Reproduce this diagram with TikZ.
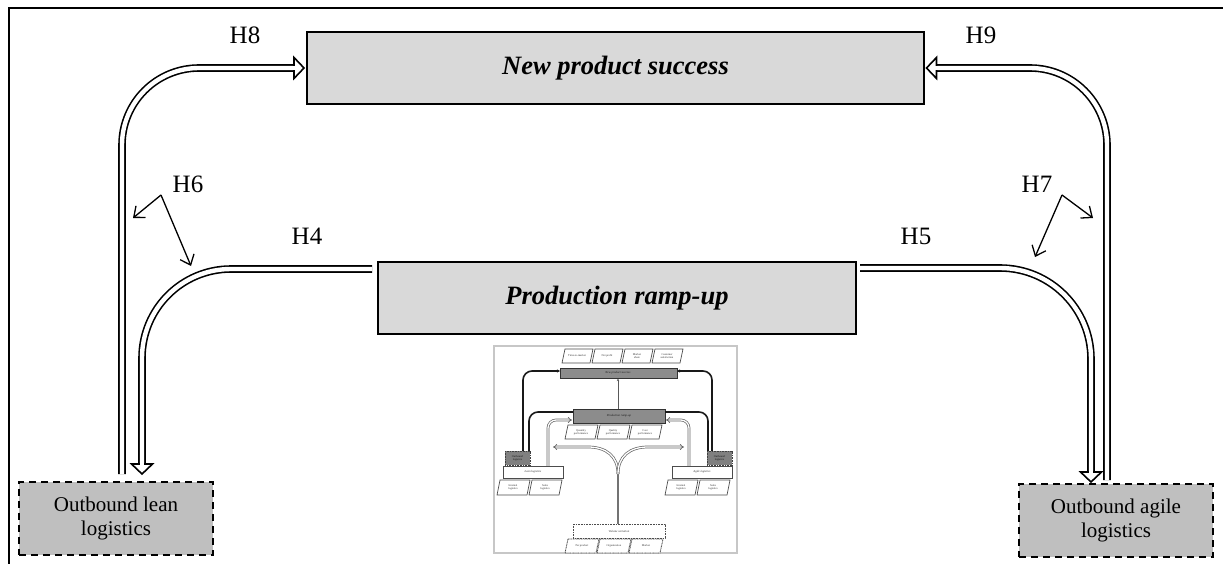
\documentclass[tikz,border=0pt]{standalone}
\usepackage{fontspec}
\setmainfont{Liberation Serif}
\usetikzlibrary{arrows.meta}
\newcommand\thpara[5]{%
  \draw[#5] (#1+3,#2) -- (#1+#3,#2) -- (#1+#3-3,#2+#4) -- (#1,#2+#4) -- cycle;}
\tikzset{
  dbl/.style={draw=black, double=white, line width=1.6pt, double distance=4.4pt, shorten >=9pt},
  dbls/.style={draw=black, double=white, line width=1.6pt, double distance=4.4pt},
  dtip/.pic={\draw[fill=white, line width=1.6pt, line join=miter] (0,0) -- (-10,10.5) -- (-10,-10.5) -- cycle;
             \fill[white] (-11.2,-2.2) rectangle (-8.9,2.2);},
  bigbox/.style={draw=black, line width=2pt, fill=black!15, inner sep=0pt,
     font=\fontsize{26.5}{30}\selectfont\bfseries\itshape},
  outbox/.style={draw=black, line width=2pt, dash pattern=on 7pt off 5pt, fill=black!25,
     minimum width=194pt, minimum height=73pt, inner sep=0pt, align=center,
     font=\fontsize{21}{24}\selectfont},
  hlab/.style={anchor=base, inner sep=0pt, font=\fontsize{25}{30}\selectfont},
  thin/.style={line width=1.3pt, -{Straight Barb[length=9pt,width=15pt,line width=1.3pt]}},
  tiny/.style={font=\fontsize{2.8}{3.2}\selectfont, text=black!80, inner sep=0pt, align=center},
  tpara/.style={draw=black!70, line width=0.7pt, fill=white},
  tparad/.style={draw=black!70, line width=0.8pt, fill=white, dash pattern=on 1pt off 0.6pt},
  tblk/.style={line width=1.6pt, draw=black!90, rounded corners=9pt},
  tdbl/.style={draw=black!60, double=white, line width=0.7pt, double distance=1.3pt, rounded corners=8pt}
}
\begin{document}
\begin{tikzpicture}[x=1pt,y=-1pt]
\useasboundingbox (0,0) rectangle (1223,564);
\fill[white] (0,0) rectangle (1223,564);
% frame (top and left only)
\draw[line width=1.6pt] (9,564) -- (9,8) -- (1223,8);

% main boxes
\node[bigbox, minimum width=617pt, minimum height=72pt] (nps) at (615.5,68) {New product success};
\node[bigbox, line width=2.4pt, minimum width=478pt, minimum height=72pt] (prod) at (617,298) {Production ramp-up};
\node[outbox] (lean) at (116,518) {Outbound lean\\logistics};
\node[outbox] (agile) at (1116,520) {Outbound agile\\logistics};

% free ends
\coordinate (h8s) at (122,474);
\coordinate (h8t) at ([xshift=-2pt]nps.west);
\coordinate (h9s) at (1107,480);
\coordinate (h9t) at ([xshift=1.5pt]nps.east);
\coordinate (h4s) at (372,269);
\coordinate (h4e) at (142,474);
\coordinate (h5s) at (860,268);
\coordinate (h5e) at (1091,482);

% double connectors
\draw[dbl, rounded corners=77pt] (h8s) -- (h8s |- h8t) -- (h8t);
\pic at (h8t) {dtip};
\draw[dbl, rounded corners=77pt] (h9s) -- (h9s |- h9t) -- (h9t);
\pic[rotate=180] at (h9t) {dtip};
\draw[dbl, rounded corners=89pt] (h4s) -- (h4e |- h4s) -- (h4e);
\pic[rotate=-90] at (h4e) {dtip};
\draw[dbl, rounded corners=91pt] (h5s) -- (h5e |- h5s) -- (h5e);
\pic[rotate=-90] at (h5e) {dtip};

% labels
\node[hlab] (l8) at (245,44) {H8};
\node[hlab] (l9) at (981,44) {H9};
\node[hlab] (l6) at (188,193) {H6};
\node[hlab] (l4) at (307,244) {H4};
\node[hlab] (l7) at (1037,193) {H7};
\node[hlab] (l5) at (916,244) {H5};

% H6 / H7 pointer arrows
\coordinate (v6) at (161,195);
\coordinate (t6a) at (133,218);
\coordinate (t6b) at (191,266);
\draw[thin] (v6) -- (t6a);
\draw[thin] (v6) -- (t6b);
\coordinate (v7) at (1062,195);
\coordinate (t7a) at (1093,218);
\coordinate (t7b) at (1035,257);
\draw[thin] (v7) -- (t7a);
\draw[thin] (v7) -- (t7b);

% ---------- thumbnail ----------
\draw[black!22, line width=1.5pt] (494,346) rectangle (737,553);
% top parallelograms
\thpara{562}{349}{31}{14}{tpara}
\thpara{592}{349}{31}{14}{tpara}
\thpara{622}{349}{31}{14}{tpara}
\thpara{652}{349}{31}{14}{tpara}
\node[tiny] at (577,356) {Time-to-market};
\node[tiny] at (607,356) {Net profit};
\node[tiny] at (637,356) {Market\\share};
\node[tiny] at (667,356) {Customer\\satisfaction};
% NPS bar
\draw[black!80, fill=black!45, line width=0.7pt] (560,368) rectangle (677,378);
\node[tiny, font=\fontsize{3}{3.2}\selectfont\itshape, text=black!90] at (618,373) {New product success};
% production bar
\draw[black!80, fill=black!45, line width=0.7pt] (573,409) rectangle (665,423);
\node[tiny, font=\fontsize{3}{3.2}\selectfont\itshape, text=black!90] at (619,416) {Production ramp-up};
\draw[black!65, line width=0.8pt, -{Stealth[length=2.5pt,width=2.5pt]}] (618,409) -- (618,378.6);
% ramp-up parallelograms
\thpara{565}{425}{33}{14}{tpara}
\thpara{597}{425}{33}{14}{tpara}
\thpara{629}{425}{33}{14}{tpara}
\node[tiny] at (581,432) {Quantity\\performance};
\node[tiny] at (613,432) {Quality\\performance};
\node[tiny] at (645,432) {Cost\\performance};
% black lines left/right
\draw[tblk, {Stealth[length=3pt,width=3pt]}-] (560,371) -- (523,371) -- (523,451);
\draw[tblk] (573,412) -- (529,412) -- (529,451);
\draw[tblk, {Stealth[length=3pt,width=3pt]}-] (677,371) -- (712,371) -- (712,451);
\draw[tblk] (665,412) -- (708,412) -- (708,451);
% gray double lines to production
\draw[tdbl, -{Implies}] (548,466) -- (548,420) -- (572,420);
\draw[tdbl, -{Implies}] (689,466) -- (689,420) -- (666,420);
% central Y
\draw[draw=black!55, line width=2.4pt] (618,524) -- (618,474);
\draw[draw=black!60, double=white, line width=0.7pt, double distance=1.3pt, -{Implies}]
  (618,474) .. controls (618,456) and (606,447) .. (588,447) -- (553,447);
\draw[draw=black!60, double=white, line width=0.7pt, double distance=1.3pt, -{Implies}]
  (618,474) .. controls (618,456) and (630,447) .. (648,447) -- (684,447);
% outbound small boxes
\draw[black!75, fill=black!50, line width=0.8pt, dash pattern=on 1pt off 0.6pt] (505,451) rectangle (530,465);
\draw[black!75, fill=black!50, line width=0.8pt, dash pattern=on 1pt off 0.6pt] (707,451) rectangle (732,465);
\node[tiny, text=black!90] at (517.5,458) {Outbound\\logistics};
\node[tiny, text=black!90] at (719.5,458) {Outbound\\logistics};
% lean / agile boxes
\draw[black!70, fill=white, line width=0.7pt] (503,466) rectangle (563,478);
\draw[black!70, fill=white, line width=0.7pt] (672,466) rectangle (732,478);
\node[tiny, font=\fontsize{3}{3.2}\selectfont\itshape] at (533,472) {Lean logistics};
\node[tiny, font=\fontsize{3}{3.2}\selectfont\itshape] at (702,472) {Agile logistics};
\thpara{497}{480}{33}{15}{tpara}
\thpara{529}{480}{33}{15}{tpara}
\thpara{665}{480}{33}{15}{tpara}
\thpara{697}{480}{33}{15}{tpara}
\node[tiny] at (513,487.5) {Internal\\logistics};
\node[tiny] at (545,487.5) {Sales\\logistics};
\node[tiny] at (681,487.5) {Internal\\logistics};
\node[tiny] at (713,487.5) {Sales\\logistics};
% bottom dashed box
\draw[black!70, fill=white, line width=0.8pt, dash pattern=on 1pt off 0.6pt] (573,524) rectangle (665,538);
\node[tiny, font=\fontsize{3}{3.2}\selectfont\itshape] at (619,531) {Volume variation};
\thpara{565}{539}{34}{14}{tparad}
\thpara{597}{539}{34}{14}{tparad}
\thpara{629}{539}{34}{14}{tparad}
\node[tiny] at (582,546) {Per product};
\node[tiny] at (614,546) {Organization};
\node[tiny] at (646,546) {Market};
\end{tikzpicture}
\end{document}
